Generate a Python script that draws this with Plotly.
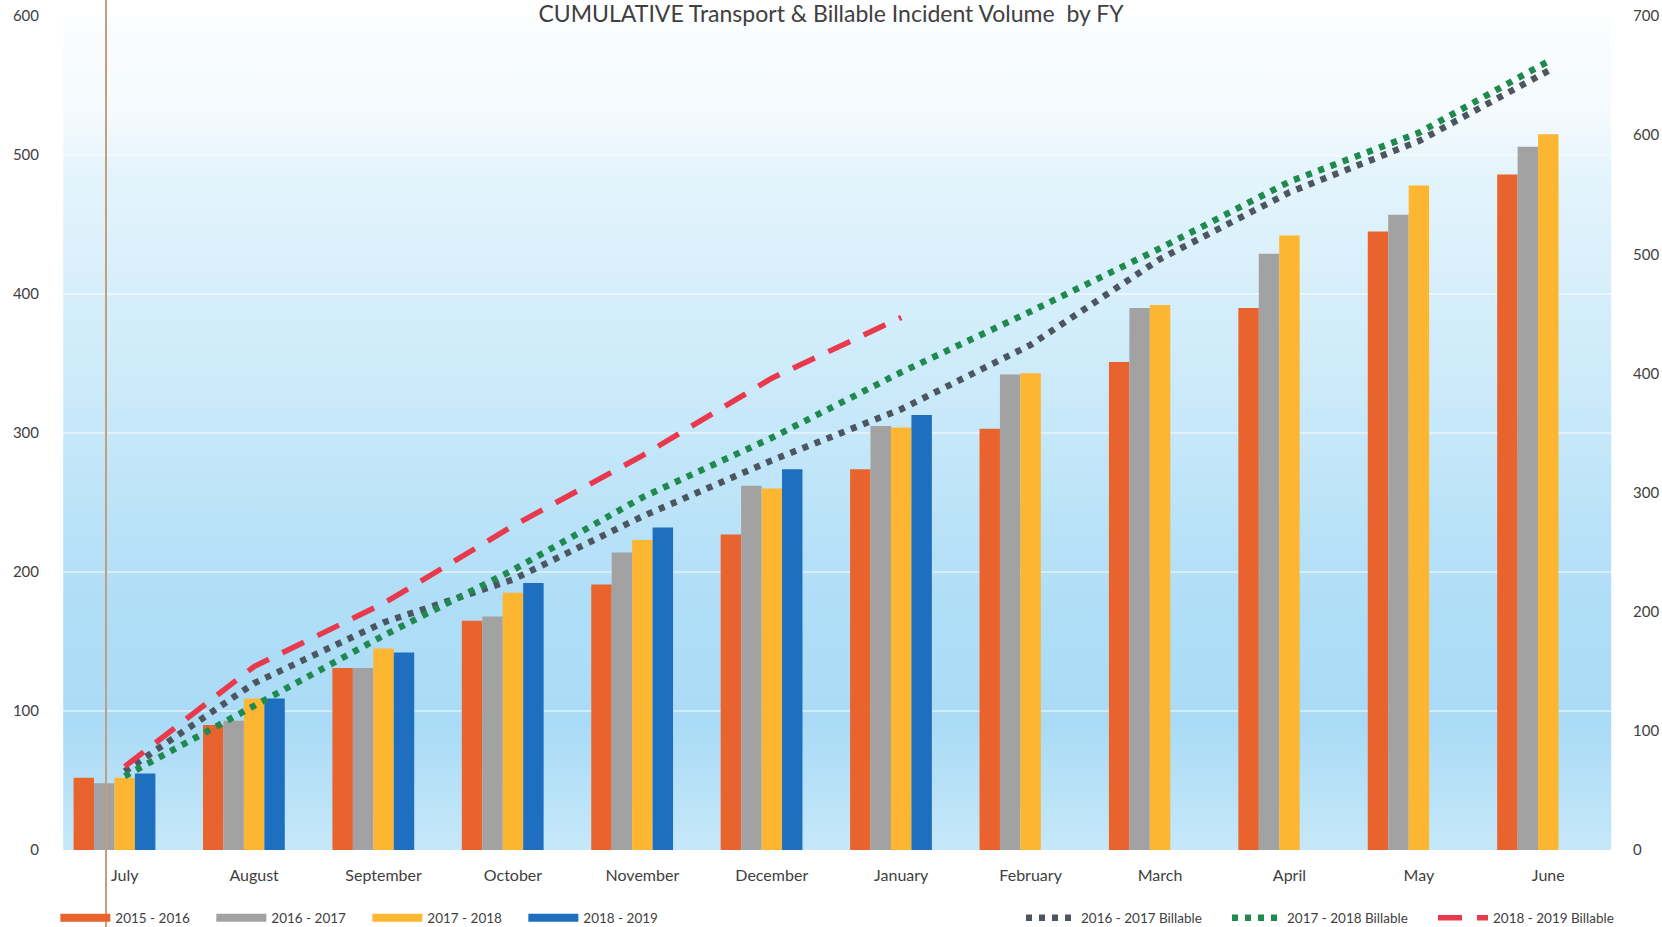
import base64
import plotly.graph_objects as go

# ---------------- data ----------------
months = ["July", "August", "September", "October", "November", "December",
          "January", "February", "March", "April", "May", "June"]

fy_2015_16 = [52, 90, 131, 165, 191, 227, 274, 303, 351, 390, 445, 486]
fy_2016_17 = [48, 93, 131, 168, 214, 262, 305, 342, 390, 429, 457, 506]
fy_2017_18 = [52, 109, 145, 185, 223, 260, 304, 343, 392, 442, 478, 515]
fy_2018_19 = [55, 109, 142, 192, 232, 274, 313]

bill_2016_17 = [66, 140, 191, 227, 280, 327, 370, 424, 496, 552, 595, 654]
bill_2017_18 = [62, 121, 180, 235, 296, 346, 401, 452, 505, 561, 602, 662]
bill_2018_19 = [70, 154, 207, 272, 331, 396, 447]

left_ticks = [0, 100, 200, 300, 400, 500, 600]
right_ticks = [0, 100, 200, 300, 400, 500, 600, 700]

title_text = "CUMULATIVE Transport & Billable Incident Volume  by FY"

# ---------------- styles ----------------
C_ORANGE = "#e8632e"
C_GRAY = "#a2a2a2"
C_YELLOW = "#fcb631"
C_BLUE = "#1f6fc1"
C_LGRAY = "#4b5661"
C_LGREEN = "#1f8a4e"
C_RED = "#e83a4c"
FONT = "Lato, 'Open Sans', sans-serif"

BAR_W = 0.158          # bar width as a fraction of a category slot
GROUP_START = -0.395   # left edge of the group relative to the category centre

fig = go.Figure()

bar_series = [("2015 - 2016", fy_2015_16, C_ORANGE),
              ("2016 - 2017", fy_2016_17, C_GRAY),
              ("2017 - 2018", fy_2017_18, C_YELLOW),
              ("2018 - 2019", fy_2018_19, C_BLUE)]

for i, (name, vals, col) in enumerate(bar_series):
    fig.add_trace(go.Bar(x=months[:len(vals)], y=vals, name=name,
                         width=BAR_W, offset=GROUP_START + i * BAR_W,
                         marker=dict(color=col, line=dict(width=0)),
                         showlegend=False, legendgroup=name, yaxis="y"))
# legend proxies (wide swatches)
for name, vals, col in bar_series:
    fig.add_trace(go.Scatter(x=[None], y=[None], mode="lines", name=name,
                             line=dict(color=col, width=8), legendgroup=name,
                             legend="legend", showlegend=True))

line_series = [("2016 - 2017 Billable", bill_2016_17, C_LGRAY, "6px,7px", 6.5),
               ("2017 - 2018 Billable", bill_2017_18, C_LGREEN, "6px,7px", 6.5),
               ("2018 - 2019 Billable", bill_2018_19, C_RED, "24px,15px", 5.5)]
for name, vals, col, dash, w in line_series:
    fig.add_trace(go.Scatter(x=months[:len(vals)], y=vals, name=name, mode="lines",
                             line=dict(color=col, width=w, dash=dash),
                             yaxis="y2", legend="legend2"))

# background gradient
svg = ("<svg xmlns='http://www.w3.org/2000/svg' width='100' height='100' preserveAspectRatio='none'>"
       "<defs><linearGradient id='g' x1='0' y1='0' x2='0' y2='1'>"
       "<stop offset='0' stop-color='#fbfdfe'/>"
       "<stop offset='0.12' stop-color='#f4fafd'/>"
       "<stop offset='0.19' stop-color='#e4f4fc'/>"
       "<stop offset='0.45' stop-color='#cbeafa'/>"
       "<stop offset='0.70' stop-color='#b0def7'/>"
       "<stop offset='0.85' stop-color='#aadbf6'/>"
       "<stop offset='1' stop-color='#c6e8f9'/>"
       "</linearGradient></defs><rect width='100' height='100' fill='url(#g)'/></svg>")
uri = "data:image/svg+xml;base64," + base64.b64encode(svg.encode()).decode()

L, R, T, B = 60, 49, 16, 77
W, H = 1662, 927
pw, ph = W - L - R, H - T - B

fig.update_layout(
    width=W, height=H,
    margin=dict(l=L, r=R, t=T, b=B, autoexpand=False),
    paper_bgcolor="white", plot_bgcolor="rgba(0,0,0,0)",
    font=dict(family=FONT, color="#404040", size=15),
    barmode="overlay",
    title=dict(text=title_text, x=0.5, xanchor="center", xref="container",
               y=1 - 6 / H, yanchor="top", yref="container", pad=dict(t=0, b=0),
               automargin=False,
               font=dict(size=23, color="#404040", family=FONT)),
    xaxis=dict(type="category", categoryorder="array", categoryarray=months,
               range=[-0.5, 11.5], showgrid=False, zeroline=False, showline=False,
               ticks="", tickfont=dict(size=16, color="#404040"), ticklabelstandoff=14),
    yaxis=dict(range=[0, 600], tickvals=left_ticks, showgrid=True,
               gridcolor="rgba(255,255,255,0.45)", gridwidth=1.5, zeroline=False,
               showline=False, ticks="", tickfont=dict(size=15, color="#404040"),
               ticklabelstandoff=20),
    yaxis2=dict(range=[0, 700], tickvals=right_ticks, overlaying="y", side="right",
                showgrid=False, zeroline=False, showline=False, ticks="",
                tickfont=dict(size=15, color="#404040"), ticklabelstandoff=19),
    legend=dict(orientation="h", x=-0.003, xanchor="left", y=-68 / ph, yanchor="middle",
                itemwidth=50, entrywidth=91, font=dict(size=13.5, color="#404040"),
                bgcolor="rgba(0,0,0,0)", traceorder="normal"),
    legend2=dict(orientation="h", x=1 + 26 / pw, xanchor="right", y=-68 / ph, yanchor="middle",
                 itemwidth=50, entrywidth=141, font=dict(size=13.5, color="#404040"),
                 bgcolor="rgba(0,0,0,0)", traceorder="normal"),
    images=[dict(source=uri, xref="paper", yref="paper", x=0.002, y=1, sizex=0.997, sizey=1,
                 sizing="stretch", layer="below", xanchor="left", yanchor="top")],
    shapes=[dict(type="line", xref="paper", yref="paper",
                 x0=(106 - L) / pw, x1=(106 - L) / pw, y0=-B / ph, y1=1 + T / ph,
                 line=dict(color="#c49f7c", width=2))],
)

fig.write_html("out.html")
